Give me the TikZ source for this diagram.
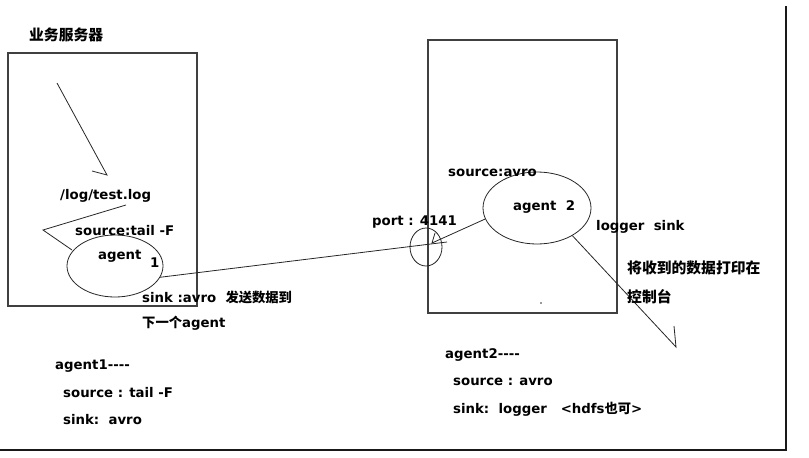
\documentclass[tikz,border=0pt]{standalone}
\usepackage{fontspec}
\setmainfont{DejaVu Sans}[Ligatures=NoCommon]
\newfontfamily\cjk{Noto Sans CJK SC}
\usetikzlibrary{shapes.geometric}
\tikzset{
  lbl/.style={anchor=west, inner sep=0pt, font=\fontsize{13.3}{15}\selectfont\bfseries},
  clbl/.style={anchor=west, inner sep=0pt, font=\fontsize{14.8}{16}\selectfont\cjk\bfseries},
  ell/.style={draw, ellipse, inner sep=0pt, line width=0.8pt, black!85},
  boxr/.style={draw, rectangle, inner sep=0pt, line width=1.4pt, black!75},
  wire/.style={line width=0.8pt, black!85},
  frame/.style={line width=1.6pt, black!90}
}
\newcommand{\zh}[1]{{\cjk\bfseries #1}}
\newcommand{\dashes}{-{}-{}-{}-}
\begin{document}
\begin{tikzpicture}[x=1pt,y=-1pt]
\useasboundingbox (0,0) rectangle (809,458);
% frame
\coordinate (ftop) at (786,6);
\coordinate (fcorner) at (786,450);
\coordinate (fleft) at (0,450);
\draw[frame] (ftop) -- (fcorner) -- (fleft);
% boxes
\node[boxr, minimum width=189, minimum height=253] (box1) at (102.5,179.5) {};
\node[boxr, minimum width=189, minimum height=273] (box2) at (522.5,176.5) {};
% title
\node[clbl] (title) at (29,35) {业务服务器};
% arrow to log
\coordinate (ar1s) at (57,83);
\coordinate (ar1e) at (107,175);
\coordinate (ar1t) at (92,171);
\draw[wire] (ar1s) -- (ar1e) -- (ar1t);
\node[lbl] (log) at (60,196) {/log/test.log};
% bracket lines
\coordinate (br1) at (126,205);
\coordinate (br2) at (43,230);
\coordinate (br3) at (72,250);
\draw[wire] (br1) -- (br2) -- (br3);
% agent1
\node[ell, minimum width=96, minimum height=62] (a1) at (115,266) {};
\node[lbl] (src1) at (75,231) {source:tail -F};
\node[lbl] (ag1) at (98,256) {agent};
\node[lbl] (ag1n) at (150,263) {1};
\node[lbl] (sink1) at (142,297) {sink :avro\ \ \zh{发送数据到}};
\node[lbl] (sink1b) at (142,323) {\zh{下一个}agent};
% port
\node[ell, minimum width=32, minimum height=38] (port) at (426,247) {};
\node[lbl] (portl) at (372,222) {port : 4141};
\coordinate (pend) at (447,242);
\draw[wire] (a1.-14) -- (pend);
% agent2
\node[ell, minimum width=108, minimum height=72] (a2) at (537,208) {};
\node[lbl] (src2) at (448,173) {source:avro};
\node[lbl] (ag2) at (513,207) {agent\ \ 2};
\node[lbl] (logger) at (596,227) {logger\ \ sink};
\coordinate (ptip) at (432,243);
\coordinate (ptick) at (435,233);
\draw[wire] (a2.192) -- (ptip) -- (ptick);
\coordinate (ltip) at (676,347);
\coordinate (ltick) at (674,326);
\draw[wire] (a2.-38) -- (ltip) -- (ltick);
\node[clbl] (print1) at (627,268) {将收到的数据打印在};
\node[clbl] (print2) at (627,297) {控制台};
% dot
\fill[black!80] (541,303) circle (0.9);
% summaries
\node[lbl] (s1a) at (55,366) {agent1\dashes};
\node[lbl] (s1b) at (63,393) {source : tail -F};
\node[lbl] (s1c) at (63,420) {sink:\ \ avro};
\node[lbl] (s2a) at (445,355) {agent2\dashes};
\node[lbl] (s2b) at (453,382) {source : avro};
\node[lbl] (s2c) at (453,409) {sink:\ \ logger\ \ \ <hdfs\zh{也可}>};
\end{tikzpicture}
\end{document}
